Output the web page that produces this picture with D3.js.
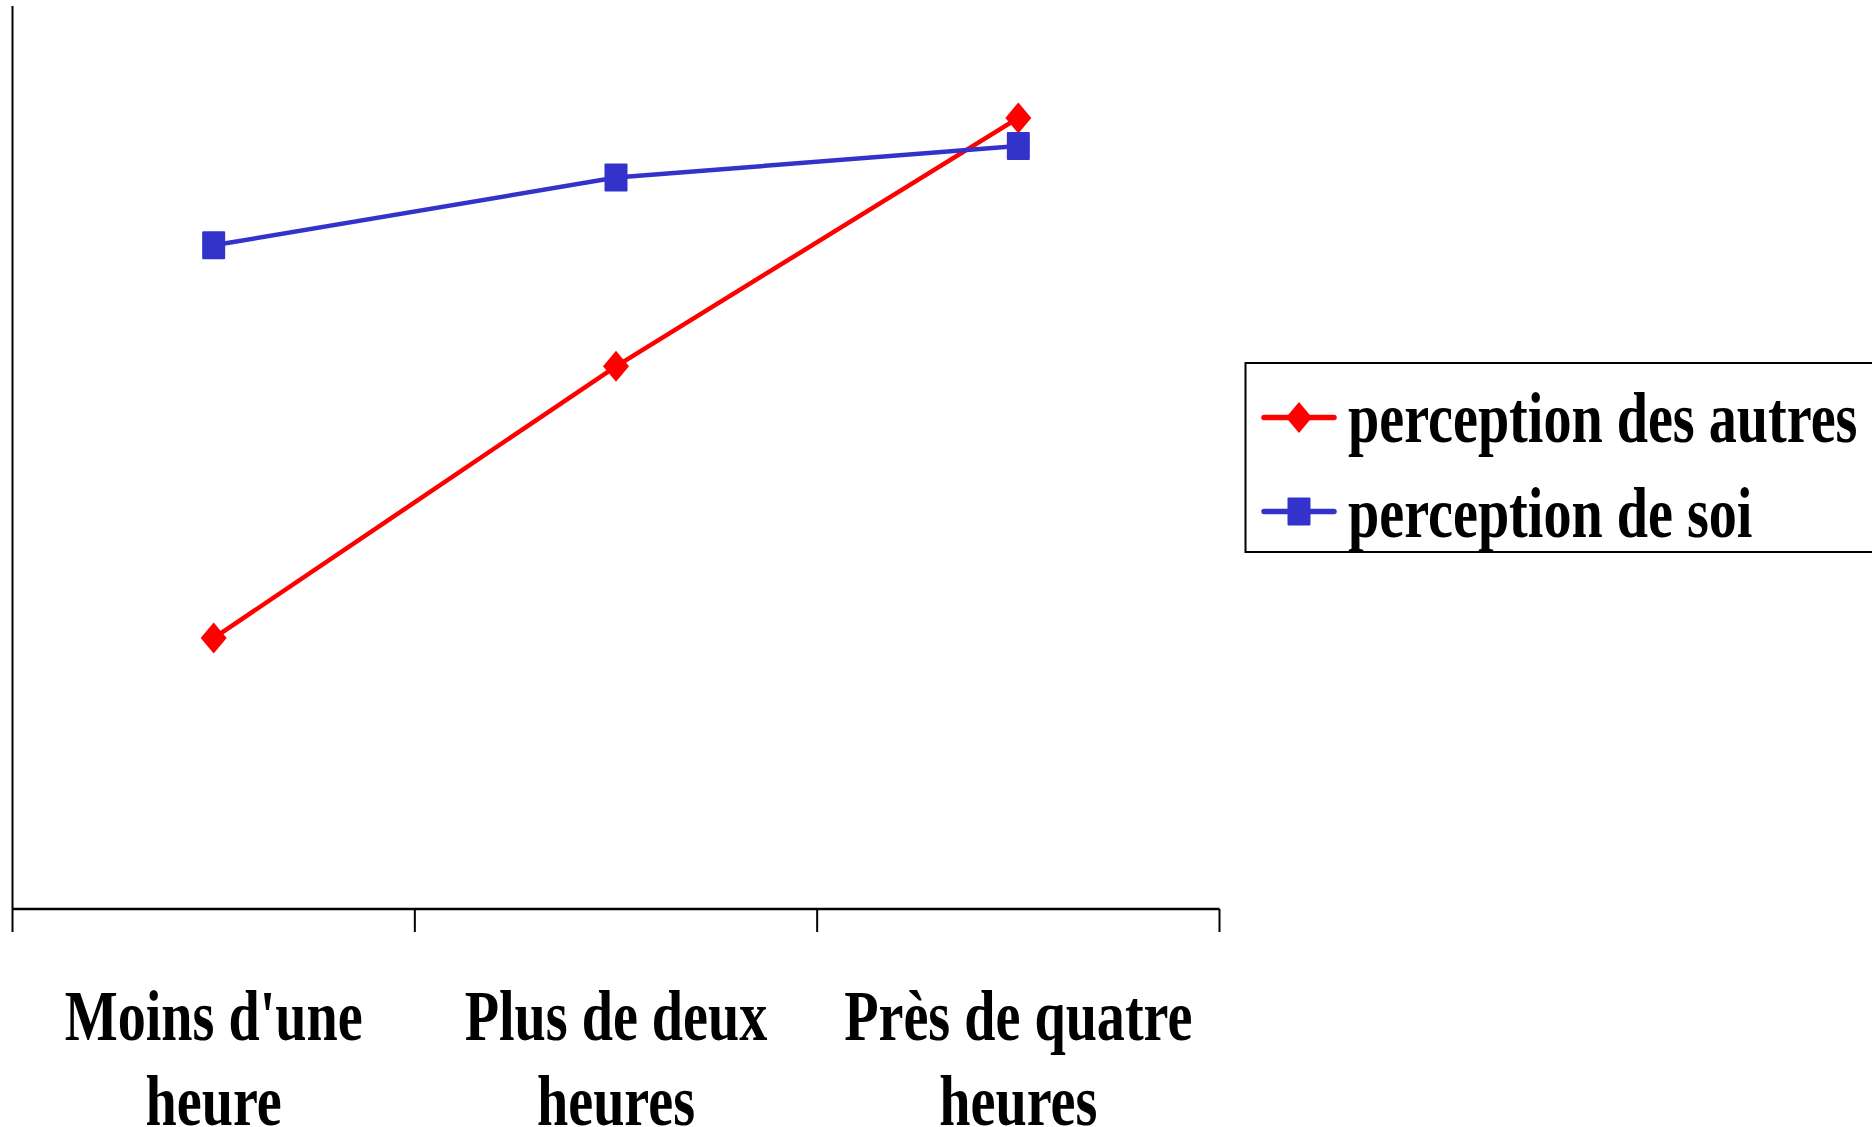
<!DOCTYPE html>
<html>
<head>
<meta charset="utf-8">
<script src="https://cdn.jsdelivr.net/npm/d3@7"></script>
<style>
  html, body { margin: 0; padding: 0; background: #fff; overflow: hidden; }
  svg { display: block; }
  .lbl { font-family: "Liberation Serif", "Times New Roman", serif; font-weight: bold; fill: #000; }
</style>
</head>
<body>
<svg id="chart" width="1872" height="1127"></svg>
<script>
// Time spent, in three groups
const categories = [["Moins d'une", "heure"], ["Plus de deux", "heures"], ["Près de quatre", "heures"]];
const seriesNames = ["perception des autres", "perception de soi"];
const autresValues = [30.0, 60.1, 87.6];
const soiValues = [73.5, 81.0, 84.5];
const seriesColors = ["#FF0000", "#3333CC"];
const seriesSymbols = ["diamond", "square"];

const W = 1872, H = 1127;
const plot = { left: 12.5, right: 1219.5, top: 6, bottom: 909 };
const fontSize = 72, squeeze = 0.78;

const svg = d3.select("#chart");

const keys = categories.map(c => c.join(" "));
const x = d3.scaleBand().domain(keys).range([plot.left, plot.right]).padding(0);
const y = d3.scaleLinear().domain([0, 100]).range([plot.bottom, plot.top]);
const cx = k => x(k) + x.bandwidth() / 2;

// Axes
svg.append("line")
  .attr("x1", plot.left).attr("x2", plot.left)
  .attr("y1", plot.top).attr("y2", plot.bottom)
  .attr("stroke", "#000").attr("stroke-width", 2);

svg.append("line")
  .attr("x1", plot.left).attr("x2", plot.right)
  .attr("y1", plot.bottom).attr("y2", plot.bottom)
  .attr("stroke", "#000").attr("stroke-width", 2.5);

const tickPos = keys.map(k => x(k)).concat([x(keys[keys.length - 1]) + x.bandwidth()]);
svg.selectAll("line.tick").data(tickPos).enter().append("line")
  .attr("class", "tick")
  .attr("x1", d => d).attr("x2", d => d)
  .attr("y1", plot.bottom).attr("y2", plot.bottom + 23)
  .attr("stroke", "#000").attr("stroke-width", 2);

// Category labels (two lines each)
categories.forEach((lines, i) => {
  const k = keys[i];
  lines.forEach((t, j) => {
    svg.append("text")
      .attr("class", "lbl")
      .attr("text-anchor", "middle")
      .attr("font-size", fontSize)
      .attr("transform", `translate(${cx(k)},${1039.5 + j * 85}) scale(${squeeze},1)`)
      .text(t);
  });
});

// Marker shapes
function marker(g, kind, color, px, py) {
  if (kind === "diamond") {
    const hw = 13, hh = 15.5;
    g.append("path")
      .attr("d", `M${px},${py - hh}L${px + hw},${py}L${px},${py + hh}L${px - hw},${py}Z`)
      .attr("fill", color);
  } else {
    const hw = 11.5, hh = 14;
    g.append("rect")
      .attr("x", px - hw).attr("y", py - hh)
      .attr("width", hw * 2).attr("height", hh * 2)
      .attr("rx", 1)
      .attr("fill", color);
  }
}

const allSeries = [autresValues, soiValues];
const line = d3.line().x((d, i) => cx(keys[i])).y(d => y(d));

allSeries.forEach((vals, s) => {
  const g = svg.append("g");
  g.append("path")
    .datum(vals)
    .attr("d", line)
    .attr("fill", "none")
    .attr("stroke", seriesColors[s])
    .attr("stroke-width", 4.5);
  vals.forEach((v, i) => marker(g, seriesSymbols[s], seriesColors[s], cx(keys[i]), y(v)));
});

// Legend
const legend = svg.append("g");
legend.append("rect")
  .attr("x", 1245.5).attr("y", 363)
  .attr("width", 700).attr("height", 189)
  .attr("fill", "#fff").attr("stroke", "#000").attr("stroke-width", 2);

const rowY = [417.5, 511.5];
const baseY = [441.5, 536.5];
seriesNames.forEach((name, s) => {
  legend.append("line")
    .attr("x1", 1264).attr("x2", 1334)
    .attr("y1", rowY[s]).attr("y2", rowY[s])
    .attr("stroke", seriesColors[s]).attr("stroke-width", 5.5)
    .attr("stroke-linecap", "round");
  marker(legend, seriesSymbols[s], seriesColors[s], 1299, rowY[s]);
  legend.append("text")
    .attr("class", "lbl")
    .attr("font-size", fontSize)
    .attr("transform", `translate(1348,${baseY[s]}) scale(${squeeze},1)`)
    .text(name);
});
</script>
</body>
</html>
